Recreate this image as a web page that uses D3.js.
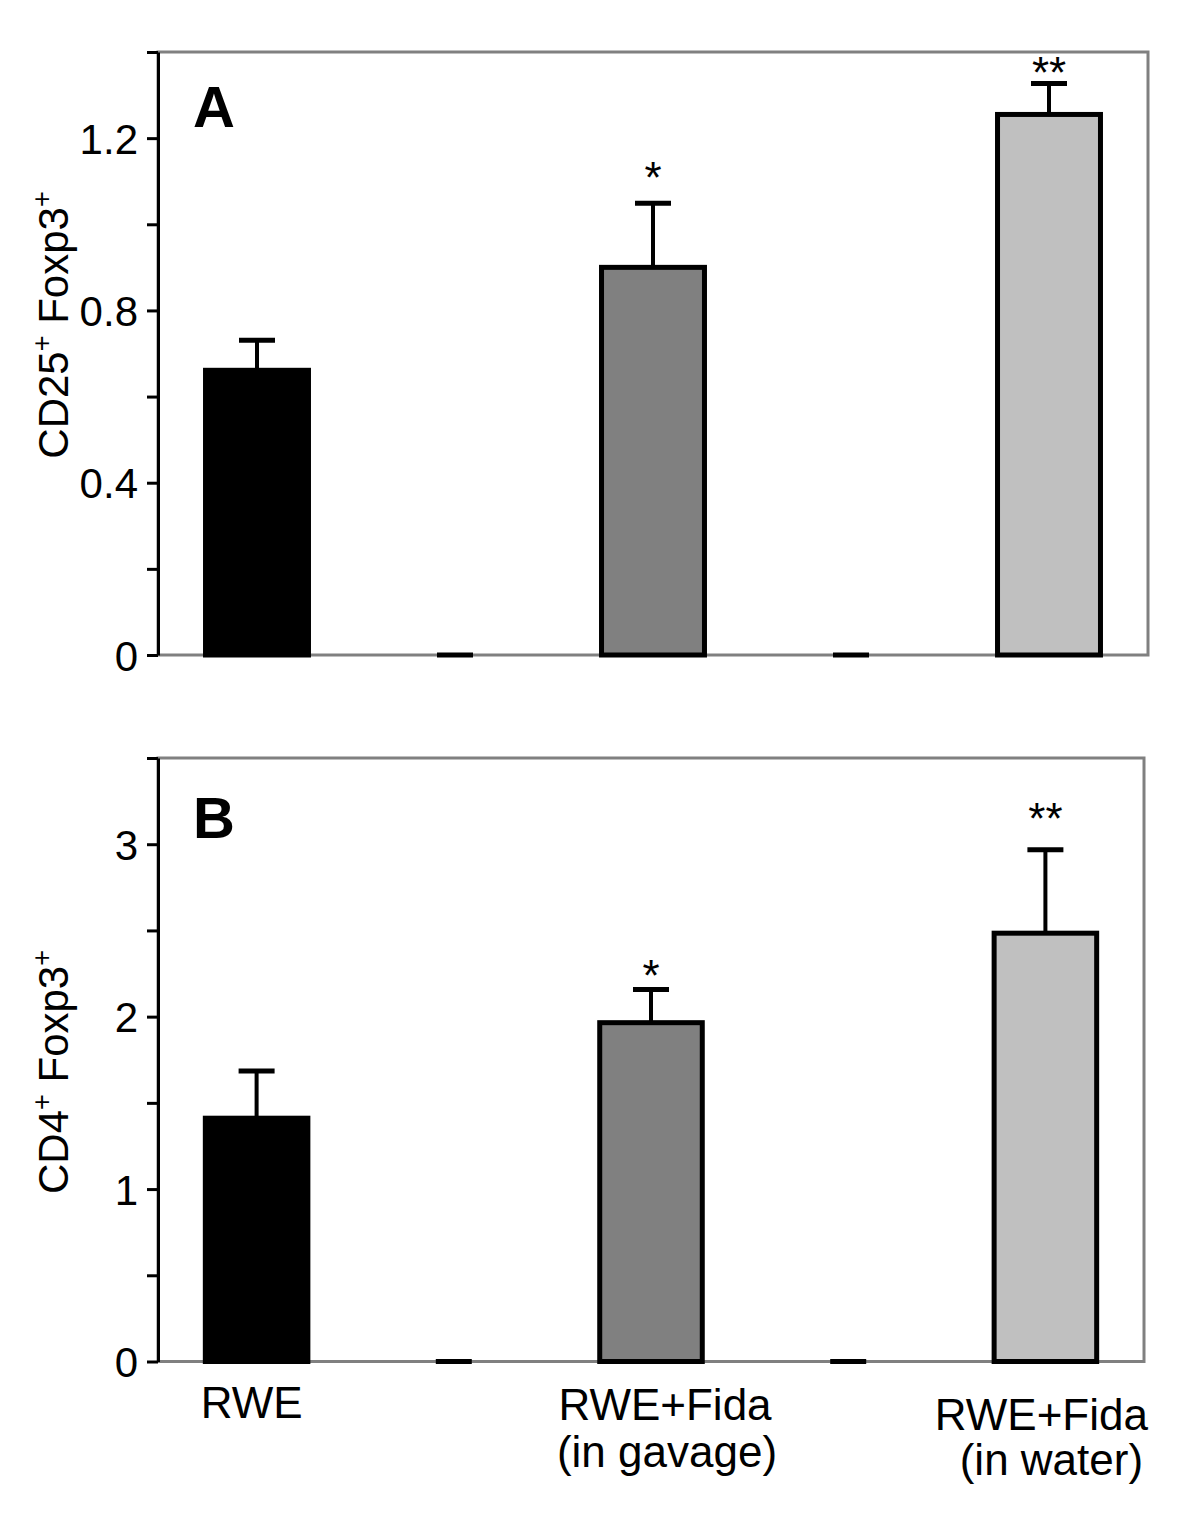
<!DOCTYPE html>
<html>
<head>
<meta charset="utf-8">
<script src="https://cdn.jsdelivr.net/npm/d3@7"></script>
<style>
  html, body { margin: 0; padding: 0; background: #fff; }
  svg { display: block; font-family: "Liberation Sans", Arial, Helvetica, sans-serif; }
</style>
</head>
<body>
<svg id="chart" width="1200" height="1533"></svg>
<script>
// ---------- data ----------
const categories = ["RWE", "gap1", "RWE+Fida (in gavage)", "gap2", "RWE+Fida (in water)"];
const categoryLines = [["RWE"], [], ["RWE+Fida", "(in gavage)"], [], ["RWE+Fida", "(in water)"]];
const barFills = ["#000000", "none", "#808080", "none", "#c0c0c0"];

const valuesA = [0.661, 0, 0.900, 0, 1.255];
const errorsA = [0.070, 0, 0.149, 0, 0.072];
const starsA = ["", "", "*", "", "**"];
const starAtA = [0, 0, 1.072, 0, 1.316];
const yTicksA = [0, 0.2, 0.4, 0.6, 0.8, 1.0, 1.2, 1.4];
const yTickLabelsA = ["0", "", "0.4", "", "0.8", "", "1.2", ""];

const valuesB = [1.411, 0, 1.965, 0, 2.484];
const errorsB = [0.274, 0, 0.192, 0, 0.484];
const starsB = ["", "", "*", "", "**"];
const starAtB = [0, 0, 2.150, 0, 3.058];
const yTicksB = [0, 0.5, 1, 1.5, 2, 2.5, 3, 3.5];
const yTickLabelsB = ["0", "", "1", "", "2", "", "3", ""];

// ---------- layout ----------
const svg = d3.select("#chart");
const left = 158;

const panels = [
  { letter: "A", values: valuesA, errors: errorsA, stars: starsA, starAt: starAtA,
    ticks: yTicksA, tickLabels: yTickLabelsA, max: 1.4,
    top: 52, bottom: 655, right: 1148, labelY: 325,
    yLabel: [["CD25", 0], ["+", 1], [" Foxp3", 0], ["+", 1]],
    letterY: 127 },
  { letter: "B", values: valuesB, errors: errorsB, stars: starsB, starAt: starAtB,
    ticks: yTicksB, tickLabels: yTickLabelsB, max: 3.5,
    top: 758, bottom: 1361.5, right: 1144, labelY: 1072,
    yLabel: [["CD4", 0], ["+", 1], [" Foxp3", 0], ["+", 1]],
    letterY: 838 }
];

panels.forEach(p => {
  const g = svg.append("g");
  const x = d3.scalePoint().domain(d3.range(categories.length)).range([left, p.right]).padding(0.5);
  const y = d3.scaleLinear().domain([0, p.max]).range([p.bottom, p.top]);
  const bw = x.step() * 0.52;

  // frame
  g.append("rect")
    .attr("x", left).attr("y", p.top)
    .attr("width", p.right - left).attr("height", p.bottom - p.top)
    .attr("fill", "none").attr("stroke", "#808080").attr("stroke-width", 3);

  // bars
  const idx = d3.range(categories.length);
  g.selectAll("rect.bar").data(idx.filter(i => p.values[i] > 0)).join("rect")
    .attr("class", "bar")
    .attr("x", i => x(i) - bw / 2)
    .attr("y", i => y(p.values[i]))
    .attr("width", bw)
    .attr("height", i => y(0) - y(p.values[i]))
    .attr("fill", i => barFills[i])
    .attr("stroke", "#000").attr("stroke-width", 5);

  // error bars
  g.selectAll("line.err").data(idx.filter(i => p.errors[i] > 0)).join("line")
    .attr("class", "err")
    .attr("x1", i => x(i)).attr("x2", i => x(i))
    .attr("y1", i => y(p.values[i])).attr("y2", i => y(p.values[i] + p.errors[i]))
    .attr("stroke", "#000").attr("stroke-width", 4);
  g.selectAll("line.cap").data(idx).join("line")
    .attr("class", "cap")
    .attr("x1", i => x(i) - 18).attr("x2", i => x(i) + 18)
    .attr("y1", i => y(p.values[i] + p.errors[i])).attr("y2", i => y(p.values[i] + p.errors[i]))
    .attr("stroke", "#000").attr("stroke-width", 5);

  // significance stars
  g.selectAll("text.star").data(idx.filter(i => p.stars[i])).join("text")
    .attr("class", "star")
    .attr("x", i => x(i)).attr("y", i => y(p.starAt[i]))
    .attr("text-anchor", "middle")
    .attr("font-size", 44)
    .text(i => p.stars[i]);

  // y axis
  const axis = d3.axisLeft(y).tickValues(p.ticks)
    .tickFormat((d, i) => p.tickLabels[i])
    .tickSize(11).tickSizeOuter(0).tickPadding(9);
  const ag = g.append("g").attr("transform", `translate(${left},0)`).call(axis);
  ag.select(".domain").attr("stroke", "#000").attr("stroke-width", 3);
  ag.selectAll(".tick line").attr("stroke", "#000").attr("stroke-width", 3);
  ag.selectAll(".tick text").attr("font-size", 42).attr("fill", "#000")
    .attr("font-family", "Liberation Sans, Arial, sans-serif").attr("dy", "0.36em");

  // y label
  const yl = g.append("text")
    .attr("transform", `translate(68,${p.labelY}) rotate(-90)`)
    .attr("text-anchor", "middle").attr("font-size", 42);
  p.yLabel.forEach(([t, sup], k) => {
    yl.append("tspan").text(t)
      .attr("font-size", sup ? 27 : 42)
      .attr("dy", sup ? -17 : (k > 0 ? 17 : 0));
  });

  // panel letter
  g.append("text").attr("x", 193).attr("y", p.letterY)
    .attr("font-size", 58).attr("font-weight", "bold").text(p.letter);

  p.x = x;
});

// x labels (under panel B)
const xB = panels[1].x;
const labelLayout = [
  { dx: [-5], base: [1418] },
  { dx: [], base: [] },
  { dx: [14, 16], base: [1420, 1467] },
  { dx: [], base: [] },
  { dx: [-4, 6], base: [1430, 1475] }
];
categoryLines.forEach((lines, i) => {
  lines.forEach((t, j) => {
    svg.append("text")
      .attr("x", xB(i) + labelLayout[i].dx[j])
      .attr("y", labelLayout[i].base[j])
      .attr("text-anchor", "middle")
      .attr("font-size", 44)
      .text(t);
  });
});
</script>
</body>
</html>
